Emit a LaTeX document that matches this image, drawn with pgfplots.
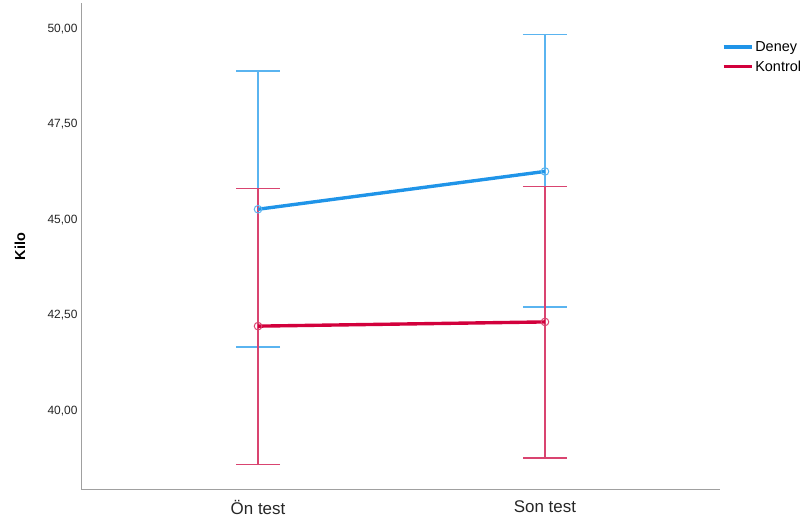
\documentclass[border=0pt]{standalone}
\usepackage{pgfplots}
\pgfplotsset{compat=1.18}
\usepackage{fontspec}
\setmainfont{Liberation Sans}
\definecolor{deney}{HTML}{1F94E8}
\definecolor{deneyerr}{HTML}{5AB4F0}
\definecolor{kontrol}{HTML}{D2003C}
\definecolor{kontrolerr}{HTML}{D94470}
\definecolor{axgray}{HTML}{A0A0A0}
\begin{document}
\begin{tikzpicture}[x=1bp,y=1bp]
\useasboundingbox (0,0) rectangle (808,529);
\begin{axis}[
  at={(81bp,39bp)}, anchor=south west,
  scale only axis, width=639bp, height=487bp,
  xmin=-0.617, xmax=1.61,
  ymin=37.93, ymax=50.68,
  axis x line=bottom, axis y line=left,
  axis line style={-, draw=axgray, line width=1pt},
  major tick length=0pt,
  xtick={0,1}, xticklabels={Ön test, Son test},
  ytick={40,42.5,45,47.5,50},
  /pgf/number format/assume math mode=true,
  yticklabel style={font=\fontsize{12}{14}\selectfont, color=black!85,
    /pgf/number format/.cd, fixed, fixed zerofill, precision=2, use comma},
  xticklabel style={font=\fontsize{17}{20}\selectfont, color=black!85, yshift=-7bp},
  ylabel={\textbf{Kilo}},
  every axis y label/.style={at={(-61bp,0.5)}, rotate=90, anchor=center,
    font=\fontsize{14.5}{17}\selectfont},
  clip=false,
  legend style={at={(0.998,0.93)}, anchor=north west, draw=none, fill=none,
    font=\fontsize{14.5}{17}\selectfont, row sep=4bp,
    /tikz/every even column/.style={column sep=2bp}},
  legend cell align=left,
  legend image code/.code={\draw[#1, line width=3.4pt] (0bp,0bp) -- (28bp,0bp);},
]
% confidence intervals
\addplot[draw=none, mark=none, forget plot,
  error bars/.cd, y dir=both, y explicit,
  error bar style={deneyerr, line width=1.3pt},
  error mark options={mark size=22bp, deneyerr, line width=1.3pt, rotate=90}]
  coordinates {(0,45.28) += (0,3.62) -= (0,3.61)
               (1,46.27) += (0,3.59) -= (0,3.55)};
\addplot[draw=none, mark=none, forget plot,
  error bars/.cd, y dir=both, y explicit,
  error bar style={kontrolerr, line width=1.3pt},
  error mark options={mark size=22bp, kontrolerr, line width=1.3pt, rotate=90}]
  coordinates {(0,42.22) += (0,3.61) -= (0,3.62)
               (1,42.33) += (0,3.55) -= (0,3.56)};
% group means
\addplot[deney, line width=3.4pt, mark=o, mark size=3.8bp,
  mark options={line width=1pt, color=deneyerr, fill=none}]
  coordinates {(0,45.28) (1,46.27)};
\addlegendentry{Deney}
\addplot[kontrol, line width=3.4pt, mark=o, mark size=3.8bp,
  mark options={line width=1pt, color=kontrolerr, fill=none}]
  coordinates {(0,42.22) (1,42.33)};
\addlegendentry{Kontrol}
\end{axis}
\end{tikzpicture}
\end{document}
